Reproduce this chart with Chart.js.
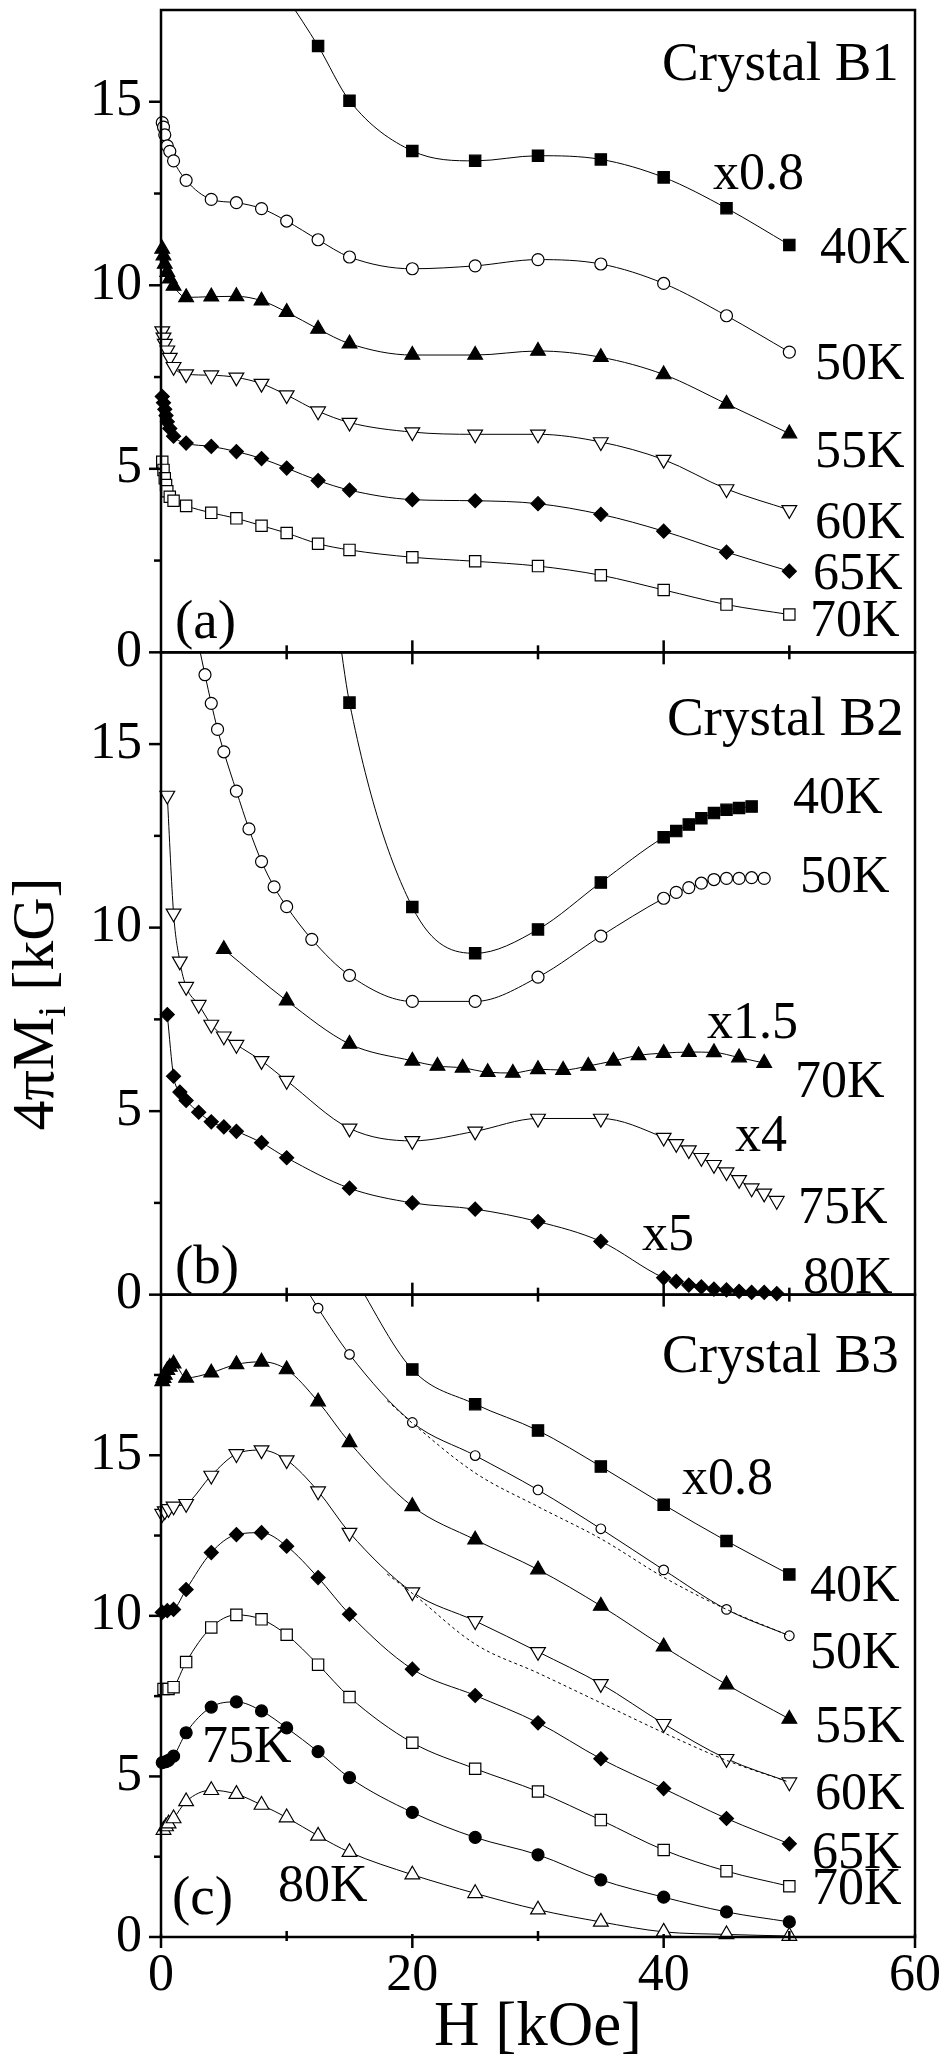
<!DOCTYPE html>
<html><head><meta charset="utf-8">
<script src="https://cdn.jsdelivr.net/npm/chart.js@4"></script>
<style>html,body{margin:0;padding:0;background:#fff;}canvas{display:block;}</style>
</head><body>
<canvas id="c" width="947" height="2060"></canvas>
<script>
// ---------- tick labels ----------
const xTicks = [0, 20, 40, 60];
const xMinorTicks = [10, 30, 50];
const yTicks = [0, 5, 10, 15];
const yMinorTicks = [2.5, 7.5, 12.5, 17.5];
const xTitle = 'H [kOe]';

// ---------- panel (a) Crystal B1 ----------
const a40H = [10, 12.5, 15, 20, 25, 30, 35, 40, 45, 50];
const a40M = [17.85, 16.52, 15.03, 13.66, 13.39, 13.53, 13.43, 12.94, 12.10, 11.10];
const aH = [0.1, 0.2, 0.3, 0.5, 0.7, 1, 2, 4, 6, 8, 10, 12.5, 15, 20, 25, 30, 35, 40, 45, 50];
const a50M = [14.43, 14.31, 14.1, 13.8, 13.65, 13.39, 12.86, 12.34, 12.25, 12.09, 11.75, 11.24, 10.77, 10.45, 10.53, 10.70, 10.58, 10.05, 9.17, 8.18];
const a55M = [10.99, 10.81, 10.58, 10.36, 10.18, 9.98, 9.67, 9.69, 9.70, 9.58, 9.27, 8.81, 8.41, 8.10, 8.10, 8.21, 8.04, 7.57, 6.77, 5.96];
const a60M = [8.75, 8.58, 8.41, 8.23, 8.03, 7.78, 7.58, 7.55, 7.49, 7.32, 7.01, 6.57, 6.26, 6.0, 5.94, 5.94, 5.73, 5.25, 4.45, 3.88];
const aH2 = [0.1, 0.2, 0.3, 0.4, 0.5, 0.7, 1, 2, 4, 6, 8, 10, 12.5, 15, 20, 25, 30, 35, 40, 45, 50];
const a65M = [6.97, 6.80, 6.62, 6.45, 6.28, 6.10, 5.89, 5.70, 5.61, 5.47, 5.28, 5.02, 4.68, 4.42, 4.16, 4.13, 4.05, 3.76, 3.30, 2.73, 2.21];
const a70M = [5.19, 4.97, 4.74, 4.56, 4.39, 4.24, 4.13, 3.99, 3.80, 3.65, 3.45, 3.25, 2.96, 2.79, 2.59, 2.48, 2.35, 2.10, 1.70, 1.30, 1.03];

// ---------- panel (b) Crystal B2 ----------
const b40H = [14, 15, 20, 25, 30, 35, 40, 41, 42, 43, 44, 45, 46, 47];
const b40M = [18.4, 16.13, 10.56, 9.30, 9.95, 11.23, 12.46, 12.63, 12.81, 12.98, 13.12, 13.21, 13.26, 13.30];
const b50H = [3, 3.5, 4, 4.5, 5, 6, 7, 8, 9, 10, 12, 15, 20, 25, 30, 35, 40, 41, 42, 43, 44, 45, 46, 47, 48];
const b50M = [17.7, 16.89, 16.11, 15.40, 14.79, 13.72, 12.69, 11.80, 11.11, 10.57, 9.68, 8.70, 7.99, 7.99, 8.65, 9.77, 10.80, 10.96, 11.09, 11.21, 11.31, 11.34, 11.34, 11.36, 11.34];
const b70H = [5, 10, 15, 20, 22, 24, 26, 28, 30, 32, 34, 36, 38, 40, 42, 44, 46, 48];
const b70M = [9.41, 8.01, 6.83, 6.37, 6.23, 6.18, 6.06, 6.04, 6.14, 6.12, 6.23, 6.37, 6.52, 6.58, 6.61, 6.60, 6.46, 6.31];
const bH = [0.5, 1, 1.5, 2, 3, 4, 5, 6, 8, 10, 15, 20, 25, 30, 35, 40, 41, 42, 43, 44, 45, 46, 47, 48, 49];
const b75M = [13.6, 10.39, 9.08, 8.39, 7.90, 7.36, 7.04, 6.81, 6.37, 5.83, 4.53, 4.19, 4.45, 4.80, 4.80, 4.28, 4.11, 3.94, 3.73, 3.54, 3.34, 3.13, 2.90, 2.76, 2.56];
const b80M = [7.63, 5.95, 5.52, 5.29, 4.97, 4.71, 4.57, 4.45, 4.14, 3.73, 2.90, 2.50, 2.33, 1.99, 1.45, 0.46, 0.36, 0.26, 0.21, 0.15, 0.13, 0.09, 0.06, 0.06, 0.03];

// ---------- panel (c) Crystal B3 ----------
const c40H = [15, 20, 25, 30, 35, 40, 45, 50];
const c40M = [20.8, 17.67, 16.59, 15.77, 14.65, 13.46, 12.33, 11.29];
const c50H = [10, 12.5, 15, 20, 25, 30, 35, 40, 45, 50];
const c50M = [21.2, 19.58, 18.14, 16.02, 14.99, 13.92, 12.71, 11.43, 10.20, 9.38];
const cFitH = [18, 20, 25, 30, 35, 40, 45, 50];
const c50FitM = [16.7, 16.0, 14.45, 13.4, 12.4, 11.2, 10.2, 9.38];
const c60FitM = [11.3, 10.7, 9.12, 8.22, 7.29, 6.36, 5.5, 4.82];
const c55H = [0.1, 0.2, 0.3, 0.5, 0.7, 1, 2, 4, 6, 8, 10, 12.5, 15, 20, 25, 30, 35, 40, 45, 50];
const c55M = [17.3, 17.4, 17.5, 17.65, 17.75, 17.85, 17.41, 17.57, 17.83, 17.91, 17.67, 16.67, 15.4, 13.41, 12.37, 11.44, 10.31, 9.04, 7.86, 6.79];
const c60H = [0.1, 0.3, 0.6, 1, 2, 4, 6, 8, 10, 12.5, 15, 20, 25, 30, 35, 40, 45, 50];
const c60M = [13.18, 13.26, 13.33, 13.41, 13.49, 14.37, 15.04, 15.16, 14.85, 13.88, 12.59, 10.74, 9.84, 8.88, 7.88, 6.64, 5.55, 4.82];
const c65H = [0.1, 0.5, 1, 2, 4, 6, 8, 10, 12.5, 15, 20, 25, 30, 35, 40, 45, 50];
const c65M = [10.11, 10.16, 10.2, 10.82, 11.97, 12.53, 12.59, 12.17, 11.19, 10.05, 8.34, 7.52, 6.67, 5.55, 4.62, 3.69, 2.90];
const c70H = [0.2, 0.6, 1, 2, 4, 6, 8, 10, 12.5, 15, 20, 25, 30, 35, 40, 45, 50];
const c70M = [7.72, 7.72, 7.78, 8.56, 9.64, 10.03, 9.89, 9.41, 8.48, 7.47, 6.05, 5.24, 4.53, 3.64, 2.71, 2.05, 1.58];
const c75H = [0.1, 0.4, 0.6, 1, 2, 4, 6, 8, 10, 12.5, 15, 20, 25, 30, 35, 40, 45, 50];
const c75M = [5.43, 5.46, 5.5, 5.63, 6.36, 7.16, 7.32, 7.04, 6.51, 5.77, 4.96, 3.88, 3.10, 2.56, 1.78, 1.24, 0.78, 0.47];
const c80H = [0.2, 0.4, 0.6, 1, 2, 4, 6, 8, 10, 12.5, 15, 20, 25, 30, 35, 40, 45, 50];
const c80M = [3.33, 3.44, 3.53, 3.69, 4.22, 4.57, 4.45, 4.11, 3.72, 3.15, 2.64, 1.94, 1.36, 0.85, 0.47, 0.16, 0.08, 0.03];

// ---------- text labels (data units of each panel) ----------
const labelText = ['Crystal B1','x0.8','40K','50K','55K','60K','65K','70K','(a)',
  'Crystal B2','40K','50K','x1.5','70K','x4','75K','x5','80K','(b)',
  'Crystal B3','x0.8','40K','50K','55K','60K','65K','70K','75K','80K','(c)'];
const labelPanel = ['yA','yA','yA','yA','yA','yA','yA','yA','yA',
  'yB','yB','yB','yB','yB','yB','yB','yB','yB','yB',
  'yC','yC','yC','yC','yC','yC','yC','yC','yC','yC','yC'];
const labelH = [39.87,43.93,52.44,52.04,52.04,52.04,51.88,51.64,1.11,
  40.26,50.29,50.85,43.45,50.45,45.68,50.69,38.28,51.09,1.11,
  39.87,41.46,51.64,51.64,52.04,52.04,51.8,51.8,3.26,9.31,0.88];
const labelM = [15.59,12.62,10.6,7.44,5.05,3.11,1.72,0.44,0.38,
  15.24,13.12,10.97,6.99,5.39,3.92,1.96,1.22,0.05,0.33,
  17.6,13.8,10.47,8.38,6.07,3.99,2.15,1.03,5.45,1.12,0.72];

// ---------- styles ----------
const SERIF = "'Liberation Serif', 'Times New Roman', serif";
Chart.defaults.font.family = SERIF;
Chart.defaults.color = '#000';
const ST = {
  fsq: {ps: 'rect', r: 8, fill: true},
  osq: {ps: 'rect', r: 8, fill: false},
  oci: {ps: 'circle', r: 6, fill: false},
  ociS: {ps: 'circle', r: 4.8, fill: false},
  fci: {ps: 'circle', r: 6, fill: true},
  ftr: {ps: 'triangle', r: 8.5, fill: true, rot: 0},
  otu: {ps: 'triangle', r: 8.5, fill: false, rot: 0},
  otd: {ps: 'triangle', r: 8.5, fill: false, rot: 180},
  fdi: {ps: 'rectRot', r: 7, fill: true}
};
function mk(xs, ys, axis, st) {
  return {
    data: xs.map((x, i) => ({x: x, y: ys[i]})),
    yAxisID: axis,
    borderColor: '#000', borderWidth: 1,
    pointStyle: st.ps, pointRadius: st.r, pointHoverRadius: st.r,
    pointRotation: st.rot || 0,
    pointBackgroundColor: st.fill ? '#000' : '#fff',
    pointBorderColor: '#000', pointBorderWidth: 1.2,
    cubicInterpolationMode: 'monotone', tension: 0.4,
    fill: false, clip: false
  };
}
function fit(xs, ys, axis) {
  return {
    data: xs.map((x, i) => ({x: x, y: ys[i]})),
    yAxisID: axis, borderColor: '#000', borderWidth: 1, borderDash: [3, 3],
    pointRadius: 0, cubicInterpolationMode: 'monotone', tension: 0.4, fill: false, clip: false
  };
}
const datasets = [
  mk(a40H, a40M, 'yA', ST.fsq), mk(aH, a50M, 'yA', ST.oci), mk(aH, a55M, 'yA', ST.ftr),
  mk(aH, a60M, 'yA', ST.otd), mk(aH2, a65M, 'yA', ST.fdi), mk(aH2, a70M, 'yA', ST.osq),
  mk(b40H, b40M, 'yB', ST.fsq), mk(b50H, b50M, 'yB', ST.oci), mk(b70H, b70M, 'yB', ST.ftr),
  mk(bH, b75M, 'yB', ST.otd), mk(bH, b80M, 'yB', ST.fdi),
  fit(cFitH, c50FitM, 'yC'), fit(cFitH, c60FitM, 'yC'),
  mk(c40H, c40M, 'yC', ST.fsq), mk(c50H, c50M, 'yC', ST.ociS), mk(c55H, c55M, 'yC', ST.ftr),
  mk(c60H, c60M, 'yC', ST.otd), mk(c65H, c65M, 'yC', ST.fdi), mk(c70H, c70M, 'yC', ST.osq),
  mk(c75H, c75M, 'yC', ST.fci), mk(c80H, c80M, 'yC', ST.otu)
];

function yAxis(max, weight) {
  return {
    type: 'linear', position: 'left', stack: 'panels', stackWeight: 1, weight: weight,
    min: 0, max: max, offset: false,
    grid: {display: false, drawTicks: false}, border: {display: false},
    ticks: {font: {size: 52, family: SERIF}, color: '#000', padding: 19, autoSkip: false},
    afterBuildTicks: s => { s.ticks = yTicks.map(v => ({value: v})); },
    afterFit: s => { s.width = 161; s.paddingTop = 0; s.paddingBottom = 0; }
  };
}

const panelClip = {
  id: 'panelClip',
  beforeDatasetDraw(chart, args) {
    const ys = args.meta.yScale, xs = chart.scales.x, ctx = chart.ctx;
    ctx.save(); ctx.beginPath();
    ctx.rect(xs.left - 10, ys.top, xs.right - xs.left + 20, ys.bottom - ys.top + 9);
    ctx.clip();
  },
  afterDatasetDraw(chart) { chart.ctx.restore(); }
};

const decor = {
  id: 'decor',
  afterDraw(chart) {
    const ctx = chart.ctx, xs = chart.scales.x;
    const ids = ['yA', 'yB', 'yC'];
    ctx.save();
    ctx.strokeStyle = '#000'; ctx.lineWidth = 2.5; ctx.lineCap = 'butt';
    const ln = (x1, y1, x2, y2) => { ctx.beginPath(); ctx.moveTo(x1, y1); ctx.lineTo(x2, y2); ctx.stroke(); };
    ids.forEach((id, i) => {
      const ys = chart.scales[id];
      ctx.strokeRect(xs.left, ys.top, xs.right - xs.left, ys.bottom - ys.top);
      yTicks.forEach(v => { const p = ys.getPixelForValue(v); ln(xs.left - 12, p, xs.left, p); });
      yMinorTicks.forEach(v => { if (v < ys.max) { const p = ys.getPixelForValue(v); ln(xs.left - 7, p, xs.left, p); } });
      const yb = ys.bottom, last = i === ids.length - 1;
      xTicks.forEach(v => { const p = xs.getPixelForValue(v);
        if (last) ln(p, yb - 3, p, yb + 11); else if (v > 0 && v < 60) ln(p, yb - 12, p, yb + 12); });
      xMinorTicks.forEach(v => { const p = xs.getPixelForValue(v);
        if (last) ln(p, yb - 6, p, yb + 4); else ln(p, yb - 7, p, yb + 7); });
    });
    // labels
    ctx.fillStyle = '#000'; ctx.textAlign = 'left'; ctx.textBaseline = 'alphabetic';
    labelText.forEach((t, i) => {
      const ys = chart.scales[labelPanel[i]];
      const size = t.indexOf('Crystal') === 0 ? 55 : (t[0] === '(' ? 55 : 52);
      ctx.font = size + 'px ' + SERIF;
      ctx.fillText(t, xs.getPixelForValue(labelH[i]), ys.getPixelForValue(labelM[i]));
    });
    // y title 4πMi [kG]
    ctx.translate(53, 1004); ctx.rotate(-Math.PI / 2);
    const big = '60px ' + SERIF, small = '40px ' + SERIF;
    ctx.font = big; const w1 = ctx.measureText('4\u03C0M').width; const w3 = ctx.measureText(' [kG]').width;
    ctx.font = small; const w2 = ctx.measureText('i').width;
    let x0 = -(w1 + w2 + w3) / 2;
    ctx.font = big; ctx.fillText('4\u03C0M', x0, 0);
    ctx.font = small; ctx.fillText('i', x0 + w1, 12);
    ctx.font = big; ctx.fillText(' [kG]', x0 + w1 + w2, 0);
    ctx.restore();
  }
};

new Chart(document.getElementById('c'), {
  type: 'line',
  data: {datasets: datasets},
  options: {
    responsive: false, animation: false, devicePixelRatio: 1, events: [],
    layout: {padding: {left: 0, right: 32, top: 10, bottom: 0}},
    plugins: {legend: {display: false}, tooltip: {enabled: false}},
    scales: {
      x: {
        type: 'linear', position: 'bottom', min: 0, max: 60,
        grid: {display: false, drawTicks: false}, border: {display: false},
        ticks: {font: {size: 52, family: SERIF}, color: '#000', padding: 8, maxRotation: 0, autoSkip: false},
        afterBuildTicks: s => { s.ticks = xTicks.map(v => ({value: v})); },
        afterFit: s => { s.height = 123; s.paddingLeft = 0; s.paddingRight = 0; },
        title: {display: true, text: xTitle, font: {size: 63, family: SERIF, lineHeight: 1}, padding: 0, color: '#000'}
      },
      yA: yAxis(17.5, 3),
      yB: yAxis(17.5, 2),
      yC: yAxis(20, 1)
    }
  },
  plugins: [panelClip, decor]
});
</script>
</body></html>
